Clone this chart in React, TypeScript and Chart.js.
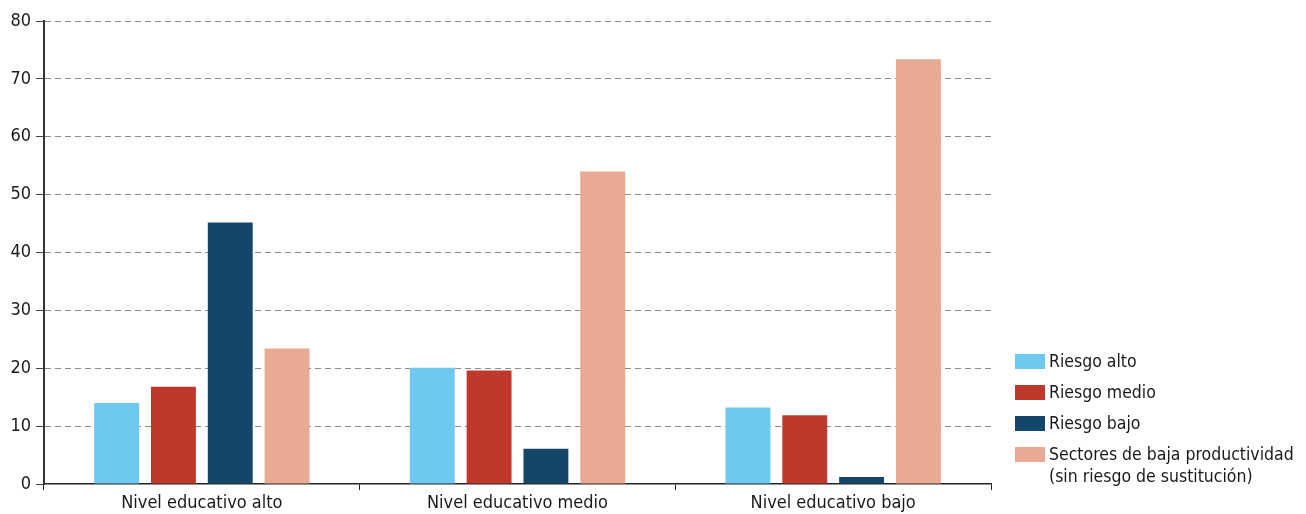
import React, { useEffect, useRef } from "react";
import { Chart, registerables } from "chart.js";

Chart.register(...registerables);

const categories = ["Nivel educativo alto", "Nivel educativo medio", "Nivel educativo bajo"];
const seriesNames = ["Riesgo alto", "Riesgo medio", "Riesgo bajo", "Sectores de baja productividad\n(sin riesgo de sustitución)"];
const riesgoAlto = [14.0, 20.1, 13.2];
const riesgoMedio = [16.8, 19.6, 11.9];
const riesgoBajo = [45.2, 6.1, 1.2];
const sectoresBaja = [23.4, 54.0, 73.4];
const colors = ["#6EC8EF", "#C0372C", "#14466A", "#E8AA93"];
const yTicks = [0, 10, 20, 30, 40, 50, 60, 70, 80];

const FONT = "'DejaVu Sans Condensed', sans-serif";

export default function App() {
  const ref = useRef<HTMLCanvasElement>(null);
  useEffect(() => {
    if (!ref.current) return;
    const values = [riesgoAlto, riesgoMedio, riesgoBajo, sectoresBaja];
    const chart = new Chart(ref.current, {
      type: "bar",
      data: {
        labels: categories,
        datasets: values.map((v, i) => ({
          label: seriesNames[i],
          data: v,
          backgroundColor: colors[i],
          borderWidth: 0,
          categoryPercentage: 0.72,
          barPercentage: 0.79,
        })),
      },
      options: {
        animation: false,
        responsive: false,
        maintainAspectRatio: false,
        layout: { padding: { left: 8, right: 315, top: 21, bottom: 0 } },
        plugins: { legend: { display: false }, tooltip: { enabled: false } },
        scales: {
          x: {
            afterFit: (s: any) => {
              s.height = 30;
            },
            grid: {
              display: true,
              drawOnChartArea: false,
              drawTicks: true,
              tickLength: 6,
              tickColor: "#222",
              offset: true,
            },
            border: { color: "#222", width: 1.5 },
            ticks: { color: "#1a1a1a", font: { family: FONT, size: 18 }, padding: 3 },
          },
          y: {
            min: 0,
            max: 80,
            afterBuildTicks: (s: any) => {
              s.ticks = yTicks.map((v) => ({ value: v }));
            },
            afterFit: (s: any) => {
              s.width = 36;
            },
            grid: {
              color: (ctx: any) => (ctx.tick && ctx.tick.value === 0 ? "rgba(0,0,0,0)" : "#8a8a8a"),
              tickLength: 8,
              tickColor: "#444",
              tickBorderDash: [],
              lineWidth: 1,
            },
            border: { color: "#333", width: 2, dash: [6, 4] },
            ticks: { color: "#1a1a1a", font: { family: FONT, size: 18 }, padding: 5 },
          },
        },
      },
    });
    return () => chart.destroy();
  }, []);

  return (
    <div style={{ position: "fixed", left: 0, top: 0, width: 1306, height: 514, background: "#fff" }}>
      <canvas ref={ref} width={1306} height={514} style={{ position: "absolute", left: 0, top: 0 }} />
      <div style={{ position: "absolute", left: 1015, top: 350, fontFamily: FONT, fontSize: 17.5, color: "#1a1a1a", lineHeight: "22px" }}>
        {seriesNames.map((n, i) => (
          <div key={i} style={{ display: "flex", alignItems: "flex-start", marginBottom: 9 }}>
            <div style={{ width: 30, height: 15, background: colors[i], marginTop: 4, marginRight: 4, flexShrink: 0 }} />
            <div style={{ whiteSpace: "pre" }}>{n}</div>
          </div>
        ))}
      </div>
    </div>
  );
}
